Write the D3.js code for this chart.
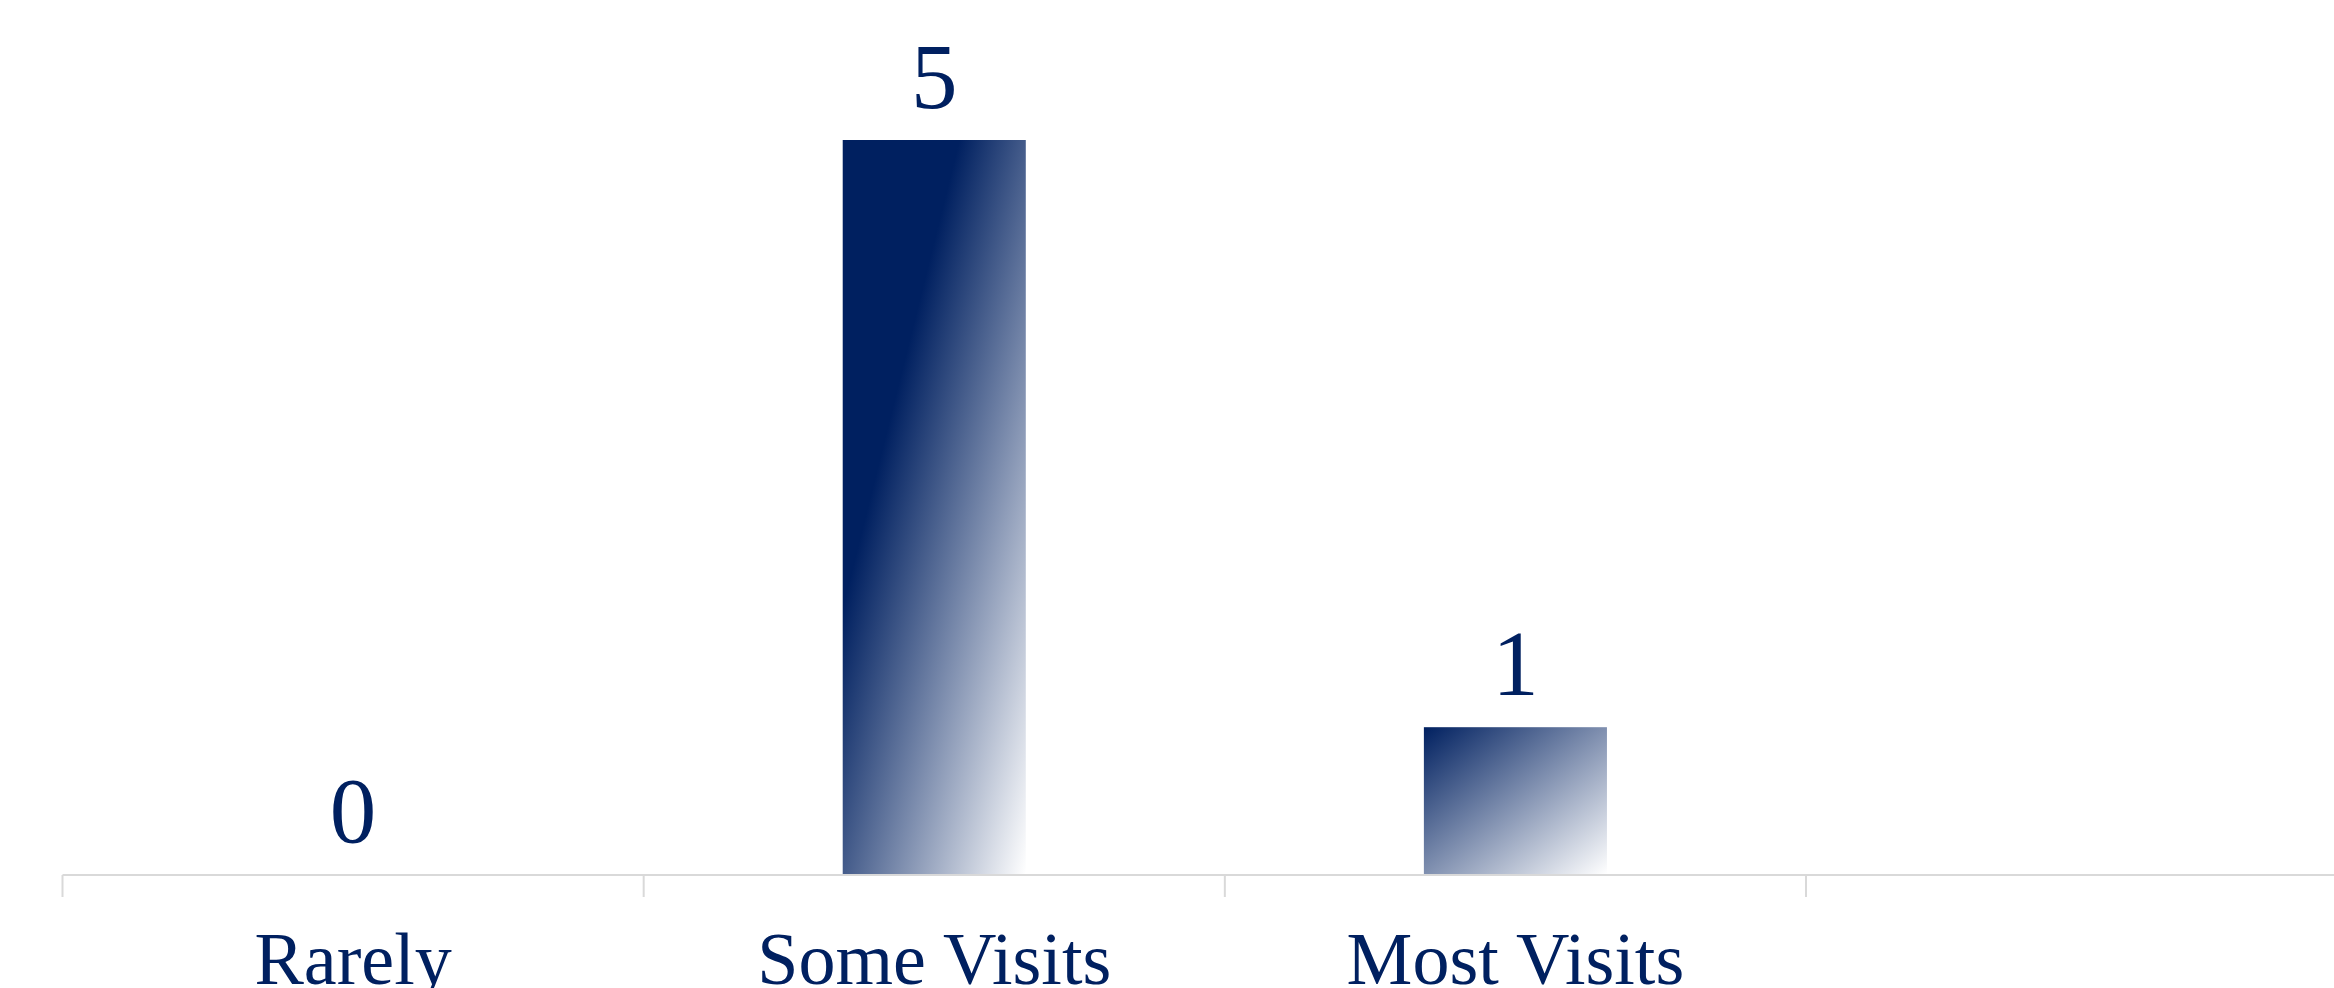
<!DOCTYPE html>
<html>
<head>
<meta charset="utf-8">
<script src="https://cdn.jsdelivr.net/npm/d3@7"></script>
<style>
  html, body { margin: 0; padding: 0; background: #ffffff; }
  svg { display: block; }
</style>
</head>
<body>
<div id="chart"></div>
<script>
// chart data
var categories = ["Rarely", "Some Visits", "Most Visits"];
var counts = [0, 5, 1];

var width = 2334;
var height = 988;
var navy = "#002060";

var svg = d3.select("#chart")
  .append("svg")
    .attr("width", width)
    .attr("height", height);

var defs = svg.append("defs");

// one band per category, bars are about a third of the band
var x = d3.scaleBand()
  .domain(categories)
  .range([62.5, 1806])
  .paddingInner(0)
  .paddingOuter(0);

var y = d3.scaleLinear()
  .domain([0, 5])
  .range([874, 140]);

var barW = x.bandwidth() * 0.315;

// gradient for each bar: dark navy in the top-left, fading to white bottom-right
counts.forEach(function(v, i) {
  var h = y(0) - y(v);
  var darkStop = Math.max(0, 1 - 500 / Math.max(h, 1));
  var g = defs.append("linearGradient")
    .attr("id", "grad" + i)
    .attr("x1", 0).attr("y1", 0)
    .attr("x2", 1).attr("y2", 1);
  g.append("stop").attr("offset", 0).attr("stop-color", navy);
  g.append("stop").attr("offset", darkStop).attr("stop-color", navy);
  g.append("stop").attr("offset", 1).attr("stop-color", "#ffffff");
});

// bars
svg.selectAll("rect.bar")
  .data(counts)
  .enter()
  .append("rect")
    .attr("class", "bar")
    .attr("x", function(d, i) { return x(categories[i]) + (x.bandwidth() - barW) / 2; })
    .attr("y", function(d) { return y(d); })
    .attr("width", barW)
    .attr("height", function(d) { return y(0) - y(d); })
    .attr("fill", function(d, i) { return "url(#grad" + i + ")"; });

// axis line runs out to the right edge
svg.append("line")
  .attr("x1", x.range()[0])
  .attr("x2", width)
  .attr("y1", y(0) + 1)
  .attr("y2", y(0) + 1)
  .attr("stroke", "#d9d9d9")
  .attr("stroke-width", 2);

// tick marks between categories
var tickPos = categories.map(function(c) { return x(c); });
tickPos.push(x(categories[categories.length - 1]) + x.bandwidth());

svg.selectAll("line.tick")
  .data(tickPos)
  .enter()
  .append("line")
    .attr("class", "tick")
    .attr("x1", function(d) { return d; })
    .attr("x2", function(d) { return d; })
    .attr("y1", y(0) + 1)
    .attr("y2", y(0) + 23)
    .attr("stroke", "#d9d9d9")
    .attr("stroke-width", 2);

// value labels above bars
svg.selectAll("text.value")
  .data(counts)
  .enter()
  .append("text")
    .attr("class", "value")
    .attr("x", function(d, i) { return x(categories[i]) + x.bandwidth() / 2; })
    .attr("y", function(d) { return y(d) - 32; })
    .attr("text-anchor", "middle")
    .style("font-family", "'Liberation Serif', 'Times New Roman', serif")
    .style("font-size", "93px")
    .style("fill", navy)
    .text(function(d) { return d; });

// category labels
svg.selectAll("text.cat")
  .data(categories)
  .enter()
  .append("text")
    .attr("class", "cat")
    .attr("x", function(d) { return x(d) + x.bandwidth() / 2; })
    .attr("y", 984)
    .attr("text-anchor", "middle")
    .style("font-family", "'Liberation Serif', 'Times New Roman', serif")
    .style("font-size", "74px")
    .style("fill", navy)
    .text(function(d) { return d; });
</script>
</body>
</html>
